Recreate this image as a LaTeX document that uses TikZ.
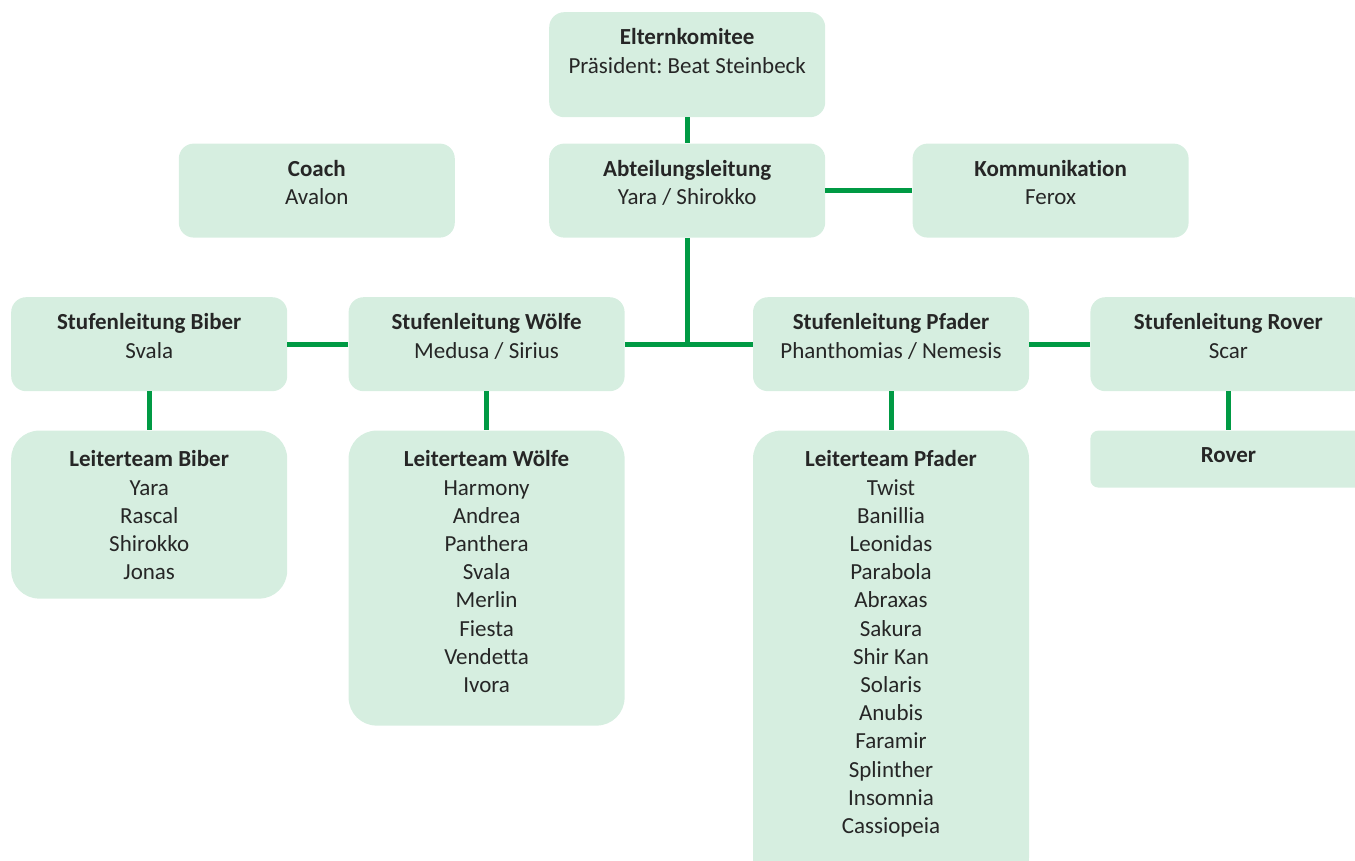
\documentclass[tikz,border=0pt]{standalone}
\usepackage{fontspec}
\setmainfont{Carlito}[Ligatures=NoCommon]
\usetikzlibrary{positioning, calc}

\definecolor{boxfill}{RGB}{214,238,224}
\definecolor{linegreen}{RGB}{0,154,68}
\definecolor{textgray}{RGB}{38,38,38}

% fixed-size cell, text starting near the top
\newcommand{\orgcell}[3][13pt]{\parbox[c][#2][t]{276pt}{\vspace*{#1}\centering\frenchspacing\strut #3}}

\begin{document}
\begin{tikzpicture}[
    x=1pt, y=-1pt,
    font=\fontsize{23}{28.2}\selectfont,
    node distance=39pt and 61pt,
    box/.style={fill=boxfill, rounded corners=15pt, inner sep=0pt,
                text=textgray, anchor=north west},
    team/.style={box, rounded corners=28pt},
    link/.style={draw=linegreen, line width=5pt}
]
\clip (0,0) rectangle (1355,861);

% top rows
\node[box] (eltern) at (549,12) {\orgcell{105pt}{\textbf{Elternkomitee}\\Präsident: Beat Steinbeck}};
\node[box, below=26pt of eltern] (abt) {\orgcell{94pt}{\textbf{Abteilungsleitung}\\Yara / Shirokko}};
\node[box, left=94pt of abt] (coach) {\orgcell{94pt}{\textbf{Coach}\\Avalon}};
\node[box, right=87pt of abt] (komm) {\orgcell{94pt}{\textbf{Kommunikation}\\Ferox}};

% Stufenleitungen
\node[box] (biber) at (11,297) {\orgcell{94pt}{\textbf{Stufenleitung Biber}\\Svala}};
\node[box, right=of biber] (woelfe) {\orgcell{94pt}{\textbf{Stufenleitung Wölfe}\\Medusa / Sirius}};
\node[box, right=128pt of woelfe] (pfader) {\orgcell{94pt}{\textbf{Stufenleitung Pfader}\\Phanthomias / Nemesis}};
\node[box, right=of pfader] (rover) {\orgcell{94pt}{\textbf{Stufenleitung Rover}\\Scar}};

% Leiterteams
\node[team, below=of biber] (teambiber) {\orgcell[16.5pt]{168pt}{\textbf{Leiterteam Biber}\\Yara\\Rascal\\Shirokko\\Jonas}};
\node[team, below=of woelfe] (teamwoelfe) {\orgcell[16.5pt]{295pt}{\textbf{Leiterteam Wölfe}\\Harmony\\Andrea\\Panthera\\Svala\\Merlin\\Fiesta\\Vendetta\\Ivora}};
\node[team, below=of pfader] (teampfader) {\orgcell[16.5pt]{455pt}{\textbf{Leiterteam Pfader}\\Twist\\Banillia\\Leonidas\\Parabola\\Abraxas\\Sakura\\Shir Kan\\Solaris\\Anubis\\Faramir\\Splinther\\Insomnia\\Cassiopeia}};
\node[box, rounded corners=8pt, below=of rover] (teamrover) {\orgcell[12pt]{57pt}{\textbf{Rover}}};

% connectors
\draw[link] (eltern) -- (abt);
\draw[link] (abt) -- (komm);
\draw[link] (abt) -- (abt |- pfader.west);
\draw[link] (biber) -- (woelfe);
\draw[link] (woelfe) -- (pfader);
\draw[link] (pfader) -- (rover);
\draw[link] (biber) -- (teambiber);
\draw[link] (woelfe) -- (teamwoelfe);
\draw[link] (pfader) -- (teampfader);
\draw[link] (rover) -- (teamrover);
\end{tikzpicture}
\end{document}
